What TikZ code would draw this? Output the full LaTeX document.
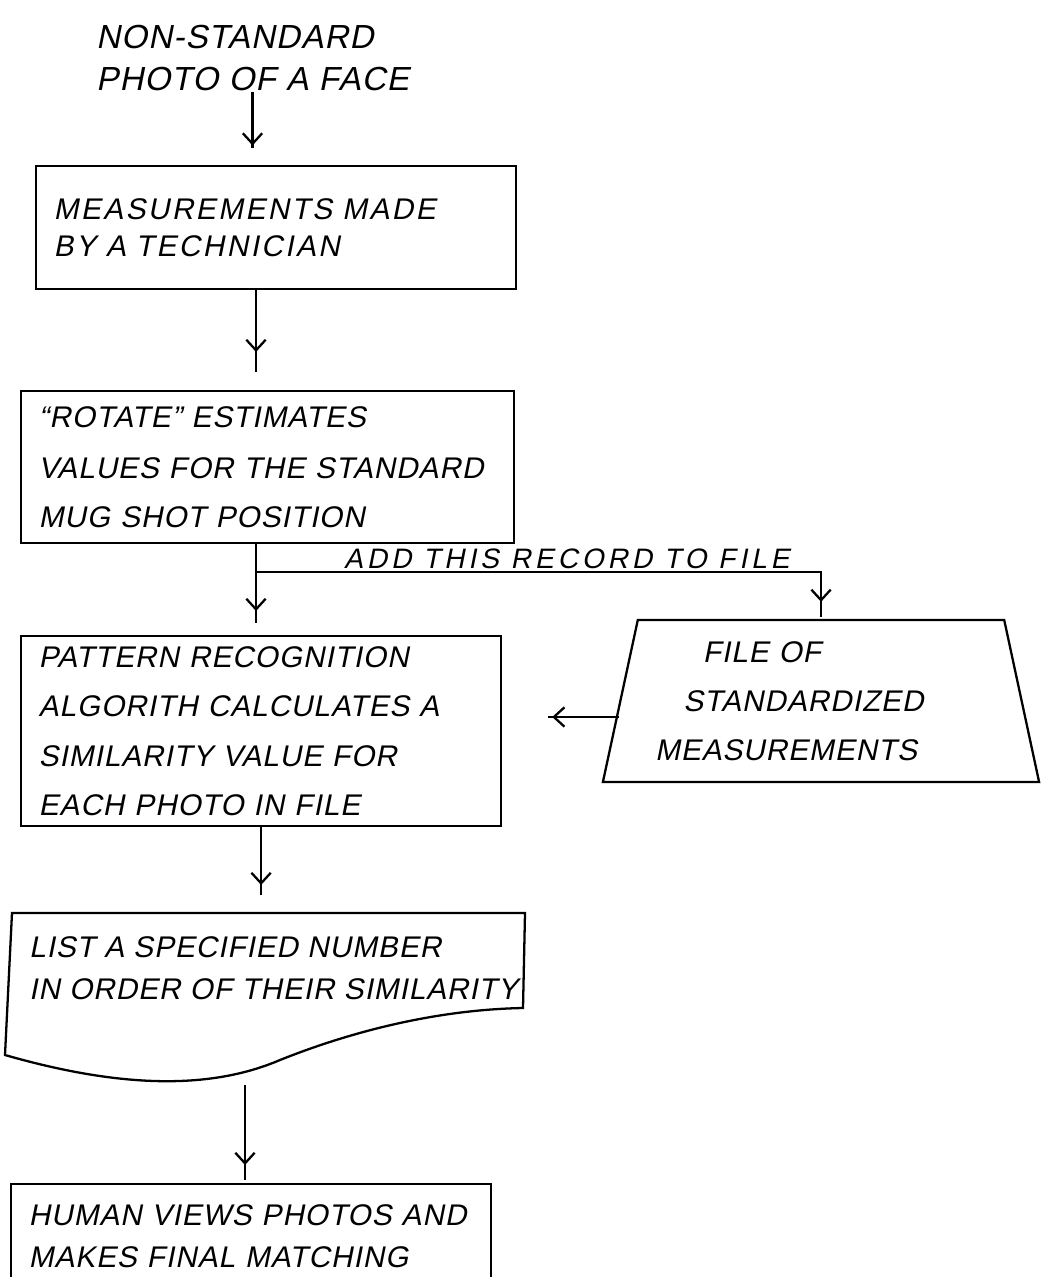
\documentclass[tikz,border=0pt]{standalone}
\usepackage{fontspec}
\setmainfont{Liberation Sans}[FakeSlant=0.2,LetterSpace=3]
\usetikzlibrary{arrows.meta,shapes.geometric,positioning,decorations.markings}

\begin{document}
\begin{tikzpicture}[x=0.02cm,y=-0.02cm,>={Straight Barb[length=6pt,width=11pt]},line width=1.3pt,
  every node/.style={font=\fontsize{17}{21}\selectfont},
  procbox/.style={draw,rectangle,align=left,inner xsep=0.35cm,anchor=north west},
  flow/.style 2 args={shorten >=#1,
    decoration={markings,mark=at position {-#1-#2} with {\arrow{>}}},postaction={decorate}},
  recordlabel/.style={font=\fontsize{16}{19}\selectfont\addfontfeatures{LetterSpace=14}}]
  \useasboundingbox (0,0) rectangle (1051,1277);
  \clip (0,0) rectangle (1051,1277);

  \node[align=left,anchor=north west,inner sep=0pt,font=\fontsize{19}{24}\selectfont] (photo) at (95,24) {NON-STANDARD\\PHOTO OF A FACE};
  \node[procbox,text width=8.9cm,minimum height=2.46cm,font=\fontsize{17}{21}\selectfont\addfontfeatures{LetterSpace=8}] (measure) at (35,165) {MEASUREMENTS MADE\\BY A TECHNICIAN};
  \node[procbox,text width=9.16cm,minimum height=3.04cm] (rotate) at (20,390) {``ROTATE'' ESTIMATES\\[8pt]VALUES FOR THE STANDARD\\[7pt]MUG SHOT POSITION};
  \node[procbox,text width=8.9cm,minimum height=3.8cm] (match) at (20,635) {PATTERN RECOGNITION\\[7pt]ALGORITH CALCULATES A\\[7pt]SIMILARITY VALUE FOR\\[7pt]EACH PHOTO IN FILE};
  \node[draw,trapezium,trapezium angle=76,trapezium stretches,minimum width=8.74cm,minimum height=3.24cm,
    text width=6.64cm,align=left] (stdfile) at (821,701) {\hspace*{1.6em}FILE OF\\[7pt]\hspace*{0.95em}STANDARDIZED\\[7pt]MEASUREMENTS};
  \node[procbox,text width=8.9cm,minimum height=2.08cm] (human) at (10,1183) {HUMAN VIEWS PHOTOS AND\\[3pt]MAKES FINAL MATCHING};

  % printout of the list
  \draw (12,913) -- (525,913) -- (523,1008) .. controls (420,1010) and (330,1040) .. (280,1060)
    .. controls (210,1090) and (120,1088) .. (5,1055) -- cycle;
  \node[align=left,anchor=north west,inner sep=0pt] (list) at (28,935) {LIST A SPECIFIED NUMBER\\[3pt]IN ORDER OF THEIR SIMILARITY};
  \coordinate (listtop) at (255,913);
  \coordinate (listout) at (245,1085);
  \coordinate (split) at (256,572);

  \draw[flow={0.34cm}{0.05cm}] (photo.south) -- (photo.south |- measure.north);
  \draw[flow={0.36cm}{0.4cm}] (measure.south -| split) -- (rotate.north -| split);
  \draw[flow={0.24cm}{0.24cm}] (rotate.south -| split) -- (match.north -| split);
  \draw[flow={0.04cm}{0.3cm}] (split) -- node[recordlabel,above,pos=0.55,inner sep=1pt] {ADD THIS RECORD TO FILE} (split -| stdfile.north) -- (stdfile.north);
  \draw[flow={0.92cm}{0.08cm}] ([yshift=-0.32cm]stdfile.west) -- ([yshift=-0.32cm]stdfile.west -| match.east);
  \draw[flow={0.36cm}{0.2cm}] (match.south) -- (match.south |- listtop);
  \draw[flow={0.06cm}{0.3cm}] (listout) -- (listout |- human.north);
\end{tikzpicture}
\end{document}
